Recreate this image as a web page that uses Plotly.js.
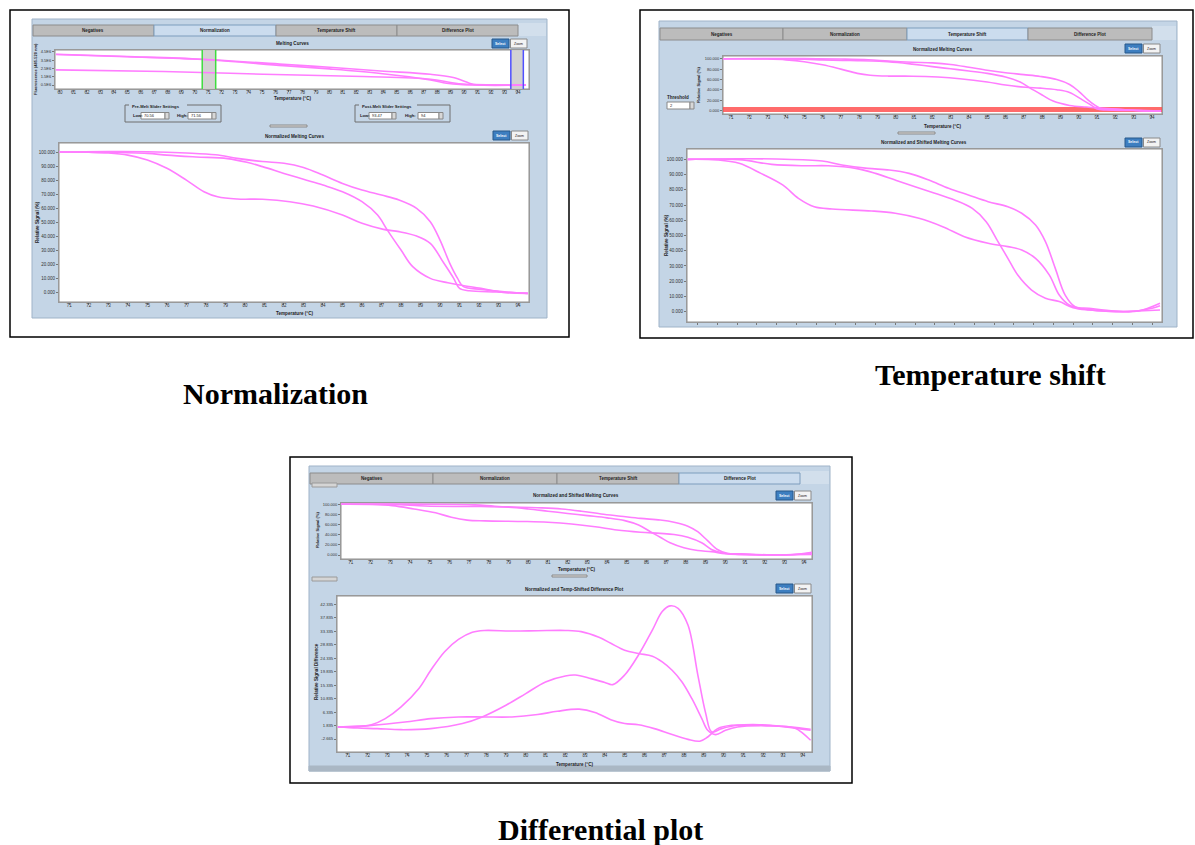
<!DOCTYPE html>
<html><head><meta charset="utf-8">
<script src="https://cdn.plot.ly/plotly-3.0.1.min.js"></script>
<style>html,body{margin:0;padding:0;background:#fff;}#chart{width:1195px;height:845px;}</style>
</head><body><div id="chart"></div>
<script>
// ---------------- DATA ----------------
const tabNames = ['Negatives', 'Normalization', 'Temperature Shift', 'Difference Plot'];
const captions = ['Normalization', 'Temperature shift', 'Differential plot'];

const tempTicksRaw = [60,61,62,63,64,65,66,67,68,69,70,71,72,73,74,75,76,77,78,79,80,81,82,83,84,85,86,87,88,89,90,91,92,93,94];
const tempTicks = [71,72,73,74,75,76,77,78,79,80,81,82,83,84,85,86,87,88,89,90,91,92,93,94];
const rawTickVals = [0.5, 1.5, 2.5, 3.5, 4.5];
const rawTickText = ['0.5E6', '1.5E6', '2.5E6', '3.5E6', '4.5E6'];
const pctTicks10 = [0,10,20,30,40,50,60,70,80,90,100];
const pctTicks20 = [0,20,40,60,80,100];
const diffTicks = [-2.665, 1.835, 6.335, 10.835, 15.335, 19.835, 24.335, 28.835, 33.335, 37.835, 42.335];

// slider settings (degC)
const preMelt = [70.56, 71.56];
const postMelt = [93.47, 94.4];
const threshold = 2.3;

// raw melting curves (fluorescence, x1E6)
const raw1T = [59.7, 65, 70.6, 76.6, 80, 83.8, 87.5, 89.2, 90.4, 90.9, 94.6];
const raw1V = [4.22, 3.95, 3.62, 3.01, 2.65, 2.2, 1.8, 1.4, 0.72, 0.52, 0.5];
const raw2T = [59.7, 65, 70.6, 76.6, 80, 83.8, 87.5, 88.7, 89.7, 94.6];
const raw2V = [4.2, 3.92, 3.58, 2.85, 2.45, 1.9, 1.12, 0.72, 0.56, 0.5];
const raw3T = [59.7, 67.7, 75.1, 82.5, 87.5, 89, 89.95, 94.6];
const raw3V = [2.33, 2.13, 1.81, 1.53, 1.2, 0.8, 0.6, 0.48];

// normalized melting curves (%)
const normAT = [70.5, 72, 73, 74, 75, 76, 77, 77.9, 78.6, 79.6, 80.9, 82.3, 83.5, 85, 86, 87.1, 87.9, 88.8, 89.5, 90.2, 90.7, 91, 91.5, 92.9, 94.5];
const normAV = [100, 99.8, 99.3, 97.8, 94.3, 88.4, 80, 71.8, 68.2, 66.6, 66.4, 64.7, 61.6, 55.2, 49.3, 45, 43.4, 40.3, 35.1, 20.9, 10.2, 3.1, 1.4, 0.5, -0.5];
const normBT = [70.5, 73, 75, 76, 77.5, 79.1, 80.1, 80.9, 82, 83, 84, 85, 86, 86.8, 87.3, 88, 88.6, 89.5, 90.4, 91, 92.1, 93.3, 94.5];
const normBV = [100, 99.8, 99, 97.8, 96.5, 95.3, 92.7, 89.6, 84.8, 80.6, 76.5, 71.8, 64.7, 55.2, 44.5, 30.3, 18.5, 10.2, 7.1, 5.5, 3.1, 0.2, -0.5];
const normCT = [70.5, 73, 75, 77, 78.5, 79.6, 80.9, 82, 83, 84, 85, 86, 87, 87.9, 88.8, 89.5, 90, 90.5, 90.9, 91.2, 92.1, 93.3, 94.5];
const normCV = [100, 100.3, 100.2, 99.3, 98, 95.5, 93.2, 92, 89, 83.6, 77.7, 73, 69.4, 65.9, 60, 50.5, 37.4, 20.9, 10.2, 4.3, 2.4, 0.7, -0.5];

// normalized and temperature-shifted curves (%)
const shAT = [70.5, 72, 73.1, 74.2, 75.3, 76.1, 76.9, 77.8, 79.8, 81, 82.2, 83.4, 84.5, 85.7, 86.7, 87.4, 88.1, 88.8, 89.3, 89.8, 90.5, 91.6, 92.8, 94, 94.4];
const shAV = [100, 99.6, 97.4, 90.8, 83.2, 74.4, 68.9, 67.4, 66.1, 64.6, 61.3, 55.8, 49.2, 44.9, 42.7, 40.5, 35, 24, 10.9, 4.4, 1.8, 0.4, 0, 2.2, 3.9];
const shBT = [70.5, 73.1, 74.75, 76.4, 77.6, 79, 80, 81, 82, 83, 84, 84.9, 85.6, 86.2, 86.7, 87.2, 87.9, 88.6, 89.3, 90, 90.8, 92.5, 93.3, 94.4];
const shBV = [100, 99.8, 96.7, 95.8, 95.8, 94.1, 90.8, 86.4, 82, 77.7, 73.3, 67.8, 59.1, 46, 35, 24, 14.2, 8.8, 6.6, 2.6, 1.1, 0, 0.4, 1.1];
const shCT = [70.5, 73, 75, 77.3, 78.3, 79.6, 80.7, 81.7, 82.7, 83.7, 84.7, 85.7, 86.7, 87.4, 88.1, 88.6, 89.1, 89.6, 90.1, 90.8, 92.1, 93.3, 94.4];
const shCV = [100, 100.4, 100.2, 98.9, 96.3, 94.1, 93, 90.8, 86.4, 81, 76.6, 72.2, 68.9, 64.6, 56.9, 46, 28.4, 10.9, 3.3, 2.2, 0.4, 0.4, 5.5];

// difference plot curves
const diffDT = [70.5, 71.5, 72.2, 72.9, 73.7, 74.6, 75.2, 75.9, 76.6, 77.3, 77.9, 79.3, 80.6, 82, 82.8, 83.7, 84.3, 85, 85.7, 86.4, 86.9, 87.4, 87.9, 88.4, 88.9, 89.2, 89.6, 90.1, 90.7, 91.8, 92.8, 93.8, 94.4];
const diffDV = [1.35, 1.35, 2.1, 4.15, 8.06, 14.2, 20.3, 26.5, 30.6, 33, 33.6, 33.4, 33.5, 33.6, 33.2, 31.3, 29.3, 27, 25.9, 25, 23.1, 20.3, 16.4, 10.8, 4.15, 0.24, -1.2, 0.24, 1.35, 1.9, 1.6, 0.8, 0.24];
const diffET = [70.5, 71.5, 72.5, 73.7, 75.2, 76.8, 77.8, 79, 80, 81, 82, 82.5, 83.3, 84, 84.4, 85, 85.7, 86.4, 86.9, 87.3, 87.7, 88.2, 88.7, 89.1, 89.4, 89.9, 90.7, 91.8, 92.8, 93.6, 94.4];
const diffEV = [1.35, 1.0, 0.8, 0.45, 0.8, 2.5, 4.7, 8.6, 12.5, 16.4, 18.4, 18.7, 17.5, 16.2, 15.5, 18.7, 25.4, 33.7, 39.9, 41.8, 41, 35.4, 18.7, 5.8, -0.3, 0.8, 1.9, 2.1, 1.7, 1.0, -3.1];
const diffFT = [70.5, 72.2, 73.9, 75.2, 76.6, 77.9, 79.3, 80.6, 81.6, 82.7, 83.5, 84.3, 85, 85.7, 86.5, 87.4, 88.2, 88.8, 89.2, 89.7, 90.4, 91.4, 92.4, 93.4, 94.4];
const diffFV = [1.35, 1.9, 3.0, 4.15, 4.7, 4.7, 4.7, 5.5, 6.6, 7.3, 6.2, 3.8, 2.5, 2.1, 0.8, -1.2, -2.8, -3.4, -2.0, 0.8, 1.9, 1.9, 1.7, 1.35, 0.6];

// ---------------- BUILD ----------------
const W = 1195, H = 845;
const PX = v => v / W, PY = v => 1 - v / H;
const CURVE = 'rgb(255,125,255)';
const FONT = 'Liberation Sans';

function curve(xs, ys, n) {
  return {x: xs, y: ys, xaxis: 'x' + n, yaxis: 'y' + n, type: 'scatter', mode: 'lines',
    line: {color: CURVE, width: 1.6, shape: 'spline', smoothing: 1}, hoverinfo: 'skip', showlegend: false};
}
const traces = [
  curve(raw1T, raw1V, ''), curve(raw2T, raw2V, ''), curve(raw3T, raw3V, ''),
  curve(normAT, normAV, 2), curve(normBT, normBV, 2), curve(normCT, normCV, 2),
  curve(normAT, normAV, 3), curve(normBT, normBV, 3), curve(normCT, normCV, 3),
  curve(shAT, shAV, 4), curve(shBT, shBV, 4), curve(shCT, shCV, 4),
  curve(shAT, shAV, 5), curve(shBT, shBV, 5), curve(shCT, shCV, 5),
  curve(diffDT, diffDV, 6), curve(diffET, diffEV, 6), curve(diffFT, diffFV, 6)
];

function xAxis(x0, x1, range, ticks, anchor, showLabels) {
  return {domain: [PX(x0), PX(x1)], range: range, anchor: anchor, tickmode: 'array', tickvals: ticks,
    ticktext: ticks.map(String), showticklabels: showLabels, ticks: 'outside', ticklen: 2, tickwidth: 1,
    ticklabelstandoff: -3,
    tickcolor: '#777', tickfont: {family: FONT, size: 4.5, color: '#333'}, showgrid: false, zeroline: false,
    showline: true, mirror: true, linecolor: '#999', linewidth: 1, fixedrange: true};
}
function yAxis(y0, y1, range, vals, texts, anchor, fs) {
  return {domain: [PY(y1), PY(y0)], range: range, anchor: anchor, tickmode: 'array', tickvals: vals,
    ticktext: texts, ticks: 'outside', ticklen: 2, tickwidth: 1, tickcolor: '#777',
    tickfont: {family: FONT, size: fs || 4.5, color: '#333'}, showgrid: false, zeroline: false,
    showline: true, mirror: true, linecolor: '#999', linewidth: 1, fixedrange: true};
}
const f3 = a => a.map(v => v.toFixed(3));

const layout = {
  width: W, height: H, margin: {l: 0, r: 0, t: 0, b: 0}, paper_bgcolor: '#fff', plot_bgcolor: '#fff',
  showlegend: false, hovermode: false,
  xaxis: xAxis(55, 529, [59.63, 94.82], tempTicksRaw, 'y', true),
  yaxis: yAxis(50, 89, [0.015, 4.74], rawTickVals, rawTickText, 'x', 4),
  xaxis2: xAxis(59, 529, [70.47, 94.56], tempTicks, 'y2', true),
  yaxis2: yAxis(143, 302, [-6.6, 106.4], pctTicks10, f3(pctTicks10), 'x2'),
  xaxis3: xAxis(723, 1162, [70.56, 94.55], tempTicks, 'y3', true),
  yaxis3: yAxis(56, 114, [-6.3, 105.2], pctTicks20, f3(pctTicks20), 'x3', 4),
  xaxis4: xAxis(687, 1162, [70.46, 94.5], tempTicks, 'y4', false),
  yaxis4: yAxis(149, 322, [-6.8, 106.8], pctTicks10, f3(pctTicks10), 'x4'),
  xaxis5: xAxis(341, 812, [70.5, 94.4], tempTicks, 'y5', true),
  yaxis5: yAxis(503, 559, [-7.9, 102.6], pctTicks20, f3(pctTicks20), 'x5', 4),
  xaxis6: xAxis(337, 812, [70.46, 94.47], tempTicks, 'y6', true),
  yaxis6: yAxis(596, 752, [-7.01, 45.11], diffTicks, f3(diffTicks), 'x6', 4.2),
  shapes: [], annotations: []
};

const S = layout.shapes, A = layout.annotations;
function rect(x0, y0, x1, y1, fill, line, lw) {
  S.push({type: 'rect', xref: 'paper', yref: 'paper', x0: PX(x0), x1: PX(x1), y0: PY(y1), y1: PY(y0),
    fillcolor: fill, line: {color: line, width: lw === undefined ? 1 : lw}, layer: 'below'});
}
function text(t, x, y, size, opts) {
  opts = opts || {};
  A.push(Object.assign({text: t, xref: 'paper', yref: 'paper', x: PX(x), y: PY(y), showarrow: false,
    xanchor: 'center', yanchor: 'middle', font: {family: FONT, size: size, color: '#222'}}, opts));
}

// outer black frames
rect(10, 10, 569, 337, 'rgba(0,0,0,0)', '#000', 1.5);
rect(640, 10, 1193, 338, 'rgba(0,0,0,0)', '#000', 1.5);
rect(290, 457, 852, 783, 'rgba(0,0,0,0)', '#000', 1.5);

// screenshot panels
const PANEL = '#c4d5e6';
rect(32, 19, 547, 318, PANEL, '#9fb3c8');
rect(659, 21, 1177, 327, PANEL, '#9fb3c8');
rect(309, 466, 830, 771, PANEL, '#9fb3c8');
rect(309, 766, 830, 771, '#aab7c4', '#aab7c4');

// tabs
function tabs(edges, y0, y1, sel, right) {
  rect(edges[4], y0 - 2, right, y1, '#d2dfec', '#d2dfec', 0);
  for (let i = 0; i < 4; i++) {
    const on = i === sel;
    rect(edges[i], y0, edges[i + 1], y1, on ? '#cbdcee' : '#bcbcbc', on ? '#7d9dbd' : '#8c8c8c', 1);
    text('<b>' + tabNames[i] + '</b>', (edges[i] + edges[i + 1]) / 2, (y0 + y1) / 2, 4.5);
  }
}
tabs([33, 154, 276, 397, 518], 25, 36, 1, 546);
tabs([660, 783, 907, 1028, 1152], 28, 40, 2, 1176);
tabs([310, 433, 557, 679, 800], 473, 484, 3, 829);

// white plot areas
rect(55, 50, 529, 89, '#fff', '#8f8f8f');
rect(59, 143, 529, 302, '#fff', '#8f8f8f');
rect(723, 56, 1162, 114, '#fff', '#8f8f8f');
rect(687, 149, 1162, 322, '#fff', '#8f8f8f');
rect(341, 503, 812, 559, '#fff', '#8f8f8f');
rect(337, 596, 812, 752, '#fff', '#8f8f8f');

// Select / Zoom buttons
function buttons(x, y) {
  rect(x, y, x + 17, y + 9, '#3d7ec0', '#29588a', 1);
  rect(x + 18.5, y, x + 35, y + 9, '#f3f3f3', '#8a8a8a', 1);
  text('<b>Select</b>', x + 8.5, y + 4.5, 3.5, {font: {family: FONT, size: 3.5, color: '#fff'}});
  text('Zoom', x + 26.7, y + 4.5, 3.5);
}
buttons(492, 39); buttons(493, 131);
buttons(1125, 44); buttons(1125, 138);
buttons(776, 491); buttons(776, 584);

// plot titles
const tsize = 4.6;
text('<b>Melting Curves</b>', 292, 44, tsize);
text('<b>Normalized Melting Curves</b>', 294, 136, tsize);
text('<b>Normalized Melting Curves</b>', 942, 49, tsize);
text('<b>Normalized and Shifted Melting Curves</b>', 924, 142, tsize);
text('<b>Normalized and Shifted Melting Curves</b>', 576, 496, tsize);
text('<b>Normalized and Temp-Shifted Difference Plot</b>', 574, 589, tsize);

// x axis titles
text('<b>Temperature (\u00b0C)</b>', 292, 99, tsize);
text('<b>Temperature (\u00b0C)</b>', 294, 313, tsize);
text('<b>Temperature (\u00b0C)</b>', 942, 126, tsize);
text('<b>Temperature (\u00b0C)</b>', 576, 569.5, tsize);
text('<b>Temperature (\u00b0C)</b>', 574, 764, tsize);

// y axis titles
const rot = {textangle: -90};
text('<b>Fluorescence (485-520 nm)</b>', 35, 69, 4, rot);
text('<b>Relative Signal (%)</b>', 38, 222, tsize, rot);
text('<b>Relative Signal (%)</b>', 699, 85, 4, rot);
text('<b>Relative Signal (%)</b>', 667, 235, tsize, rot);
text('<b>Relative Signal (%)</b>', 317, 530, 4, rot);
text('<b>Relative Signal Difference</b>', 316, 672, tsize, rot);

// slider settings group boxes (normalization)
function spin(x0, y0, x1, y1, val) {
  rect(x0, y0, x1, y1, '#fff', '#888', 1);
  rect(x1, y0, x1 + 4, y1, '#d8d8d8', '#888', 1);
  text(val, x0 + 1, (y0 + y1) / 2, 4, {xanchor: 'left'});
}
rect(125, 105, 221, 122, 'rgba(0,0,0,0)', '#6f6f6f', 1);
rect(129, 104, 187, 109, PANEL, PANEL, 0);
text('<b>Pre-Melt Slider Settings</b>', 130, 106.5, 4.2, {xanchor: 'left'});
text('<b>Low:</b>', 131, 116, 4.2, {xanchor: 'left'});
spin(141, 112.5, 165, 119, preMelt[0].toFixed(2));
text('<b>High:</b>', 175, 116, 4.2, {xanchor: 'left'});
spin(188, 112.5, 212, 119, preMelt[1].toFixed(2));

rect(355, 105, 450, 122, 'rgba(0,0,0,0)', '#6f6f6f', 1);
rect(359, 104, 417, 109, PANEL, PANEL, 0);
text('<b>Post-Melt Slider Settings</b>', 360, 106.5, 4.2, {xanchor: 'left'});
text('<b>Low:</b>', 358, 116, 4.2, {xanchor: 'left'});
spin(369, 112.5, 392, 119, postMelt[0].toFixed(2));
text('<b>High:</b>', 403, 116, 4.2, {xanchor: 'left'});
spin(418, 112.5, 439, 119, '94');

// threshold control (temperature shift)
text('<b>Threshold</b>', 678, 97, 4.5);
spin(667, 102, 690, 109, '2');

// small splitter handles
rect(270, 125, 307, 127, '#dcdcdc', '#8a8a8a', 1);
rect(898, 132, 935, 134, '#dcdcdc', '#8a8a8a', 1);
rect(552, 575, 587, 577, '#dcdcdc', '#8a8a8a', 1);
rect(312, 483, 337, 487, '#d5d5d5', '#9a9a9a', 1);
rect(312, 577, 337, 581, '#d5d5d5', '#9a9a9a', 1);

// pre/post melt sliders on raw curve plot
function band(a, b, col) {
  S.push({type: 'rect', xref: 'x', yref: 'y domain', x0: a, x1: b, y0: 0, y1: 1,
    fillcolor: 'rgba(205,205,205,0.9)', line: {width: 0}, layer: 'below'});
  [a, b].forEach(v => S.push({type: 'line', xref: 'x', yref: 'y domain', x0: v, x1: v, y0: 0, y1: 1,
    line: {color: col, width: 1.5}, layer: 'above'}));
}
band(preMelt[0], preMelt[1], '#3fdc3f');
band(postMelt[0], postMelt[1], '#5050ff');

// threshold line
S.push({type: 'line', xref: 'x3 domain', yref: 'y3', x0: 0, x1: 1, y0: threshold, y1: threshold,
  line: {color: 'rgba(255,70,70,0.8)', width: 5}, layer: 'below'});

// captions
const cap = {font: {family: 'Liberation Serif', size: 30, color: '#000'}};
text('<b>' + captions[0] + '</b>', 275, 393, 30, cap);
text('<b>' + captions[1] + '</b>', 990, 374, 30, cap);
text('<b>' + captions[2] + '</b>', 600, 829, 30, cap);

Plotly.newPlot('chart', traces, layout, {staticPlot: true, displayModeBar: false});
</script></body></html>
